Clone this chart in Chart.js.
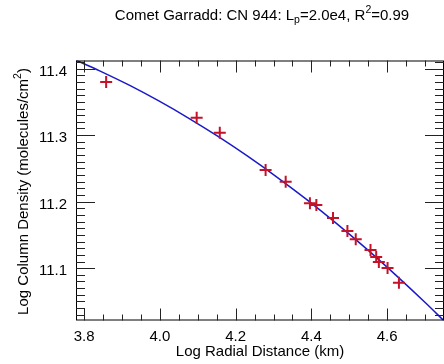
<!DOCTYPE html>
<html>
<head>
<meta charset="utf-8">
<script src="https://cdn.jsdelivr.net/npm/chart.js@4/dist/chart.umd.min.js"></script>
<style>
  html, body { margin: 0; padding: 0; background: #fff; overflow: hidden; }
  #wrap { width: 444px; height: 364px; overflow: hidden; }
</style>
</head>
<body>
<div id="wrap"><canvas id="c" width="452" height="364" style="width:452px;height:364px"></canvas></div>
<script>
// measured points (log radial distance, log column density)
const obsX = [3.858, 4.097, 4.158, 4.279, 4.332, 4.396, 4.413, 4.457, 4.495, 4.517, 4.556, 4.571, 4.578, 4.601, 4.631]
const obsY = [11.380, 11.326, 11.3035, 11.2474, 11.230, 11.1974, 11.1949, 11.1754, 11.1559, 11.1434, 11.1273, 11.1168, 11.1093, 11.1003, 11.0782]

// fitted model curve
const fitX = [3.7784, 3.8409, 3.919, 3.9971, 4.0753, 4.1534, 4.2315, 4.3096, 4.3878, 4.4659, 4.544, 4.6221, 4.7003, 4.7497]
const fitY = [11.4126, 11.3967, 11.3751, 11.3514, 11.3257, 11.298, 11.2683, 11.2366, 11.203, 11.1673, 11.1297, 11.0899, 11.0483, 11.021]

const xTicks = [3.8, 4.0, 4.2, 4.4, 4.6]
const yTicks = [11.1, 11.2, 11.3, 11.4]

const X_MIN = 3.7784, X_MAX = 4.75
const Y_MIN = 11.0213, Y_MAX = 11.4122

const FONT = '"Liberation Sans", Arial, Helvetica, sans-serif'

const frame = {
  id: 'frame',
  afterDatasetsDraw(chart) {
    const { ctx, chartArea: a, scales: { x, y } } = chart
    ctx.save()
    ctx.strokeStyle = '#000'
    ctx.lineWidth = 1
    ctx.strokeRect(a.left + 0.5, a.top + 0.5, a.right - a.left - 1, a.bottom - a.top - 1)

    ctx.strokeStyle = '#222'
    ctx.beginPath()
    // x ticks: major every 0.2, minor every 0.05
    for (let i = 0; ; i++) {
      const v = 3.75 + i * 0.05
      if (v > X_MAX + 1e-9) break
      if (v < X_MIN) continue
      const px = Math.round(x.getPixelForValue(v)) + 0.5
      const major = xTicks.some(t => Math.abs(t - v) < 1e-6)
      const len = major ? 12 : 6
      ctx.moveTo(px, a.bottom); ctx.lineTo(px, a.bottom - len)
      ctx.moveTo(px, a.top); ctx.lineTo(px, a.top + len)
    }
    // y ticks: major every 0.1, minor every 0.01
    for (let i = 0; ; i++) {
      const v = 11.02 + i * 0.01
      if (v > Y_MAX + 1e-9) break
      if (v < Y_MIN) continue
      const py = Math.round(y.getPixelForValue(v)) + 0.5
      const major = yTicks.some(t => Math.abs(t - v) < 1e-6)
      const len = major ? 19 : 9
      ctx.moveTo(a.left, py); ctx.lineTo(a.left + len, py)
      ctx.moveTo(a.right, py); ctx.lineTo(a.right - len, py)
    }
    ctx.stroke()
    ctx.restore()
  },
  afterDraw(chart) {
    const { ctx } = chart
    ctx.save()
    ctx.fillStyle = '#000'
    ctx.textBaseline = 'alphabetic'

    // title with sub/superscripts
    const big = '15px ' + FONT, small = '10.5px ' + FONT
    const parts = [
      ['Comet Garradd: CN 944: L', big, 0],
      ['p', small, 3],
      ['=2.0e4, R', big, 0],
      ['2', small, -6.5],
      ['=0.99', big, 0],
    ]
    let w = 0
    parts.forEach(p => { ctx.font = p[1]; w += ctx.measureText(p[0]).width })
    let tx = 262 - w / 2
    parts.forEach(p => {
      ctx.font = p[1]
      ctx.fillText(p[0], tx, 19.5 + p[2])
      tx += ctx.measureText(p[0]).width
    })

    // y axis title, rotated
    const yparts = [
      ['Log Column Density (molecules/cm', big, 0],
      ['2', small, -6.5],
      [')', big, 0],
    ]
    let yw = 0
    yparts.forEach(p => { ctx.font = p[1]; yw += ctx.measureText(p[0]).width })
    ctx.translate(27.5, 191.5)
    ctx.rotate(-Math.PI / 2)
    let ox = -yw / 2
    yparts.forEach(p => {
      ctx.font = p[1]
      ctx.fillText(p[0], ox, p[2])
      ox += ctx.measureText(p[0]).width
    })
    ctx.restore()
  }
}

new Chart(document.getElementById('c'), {
  type: 'scatter',
  data: {
    datasets: [
      {
        label: 'observed',
        data: obsX.map((v, i) => ({ x: v, y: obsY[i] })),
        pointStyle: 'cross',
        pointRadius: 6,
        borderColor: 'rgb(196,18,40)',
        borderWidth: 2,
        order: 0,
      },
      {
        label: 'fit',
        type: 'line',
        data: fitX.map((v, i) => ({ x: v, y: fitY[i] })),
        borderColor: '#1a1ac8',
        borderWidth: 1.5,
        pointRadius: 0,
        cubicInterpolationMode: 'monotone',
        order: 1,
      },
    ],
  },
  options: {
    responsive: false,
    animation: false,
    layout: { padding: { top: 60.5, right: 3, left: 0, bottom: 0 } },
    plugins: { legend: { display: false }, tooltip: { enabled: false } },
    scales: {
      x: {
        type: 'linear',
        min: X_MIN,
        max: X_MAX,
        afterFit: s => { s.height = 43.5 },
        afterBuildTicks: s => { s.ticks = xTicks.map(v => ({ value: v })) },
        grid: { display: false, drawTicks: false },
        border: { display: false },
        ticks: {
          color: '#000',
          padding: 7,
          maxRotation: 0,
          font: { family: FONT, size: 15 },
          callback: v => v.toFixed(1),
        },
        title: {
          display: true,
          text: 'Log Radial Distance (km)',
          color: '#000',
          font: { family: FONT, size: 15 },
          padding: { top: 0, bottom: 3 },
        },
      },
      y: {
        type: 'linear',
        min: Y_MIN,
        max: Y_MAX,
        afterFit: s => { s.width = 76 },
        afterBuildTicks: s => { s.ticks = yTicks.map(v => ({ value: v })) },
        grid: { display: false, drawTicks: false },
        border: { display: false },
        ticks: {
          color: '#000',
          padding: 9,
          labelOffset: 3,
          font: { family: FONT, size: 15 },
          callback: v => v.toFixed(1),
        },
      },
    },
  },
  plugins: [frame],
})
</script>
</body>
</html>
